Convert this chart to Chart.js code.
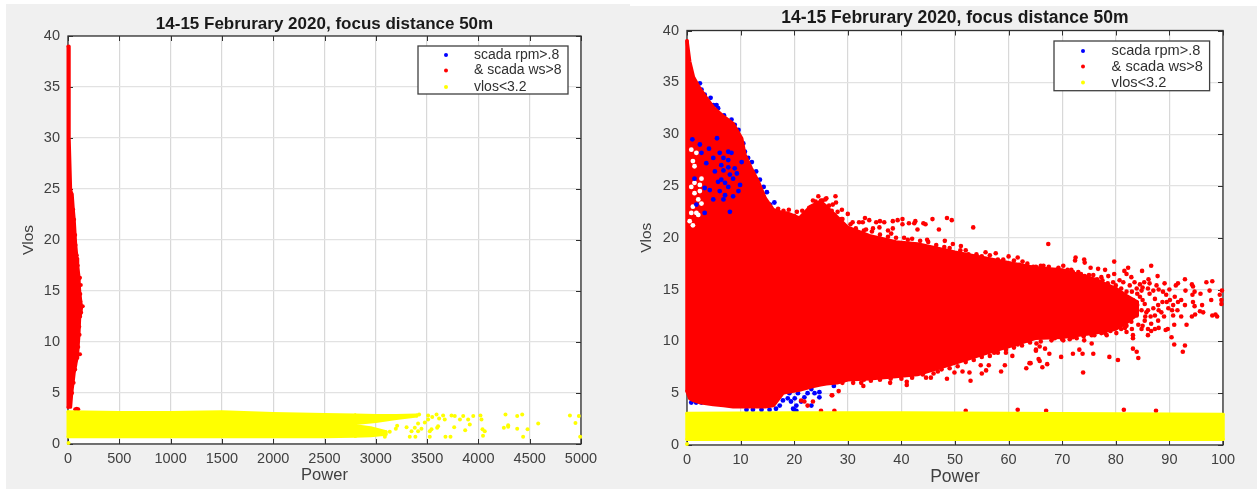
<!DOCTYPE html>
<html>
<head>
<meta charset="utf-8">
<title>14-15 Februrary 2020, focus distance 50m</title>
<script src="https://cdn.jsdelivr.net/npm/chart.js@4/dist/chart.umd.min.js"></script>
<style>
  html, body { margin: 0; padding: 0; background: #fff; }
  canvas { position: absolute; background: #f0f0f0; filter: blur(0.55px); }
  #left { left: 6px; top: 4px; }
  #right { left: 630px; top: 6px; }
</style>
</head>
<body>
<canvas id="left" width="624" height="485"></canvas>
<canvas id="right" width="627" height="483"></canvas>
<script>
// ─── textos y ejes ───────────────────────────────────────────────
var titleText = '14-15 Februrary 2020, focus distance 50m';
var seriesLabels = ['scada rpm>.8', '& scada ws>8', 'vlos<3.2'];
var seriesColors = ['#0000ff', '#ff0000', '#ffff00'];
var yTicks = [0, 5, 10, 15, 20, 25, 30, 35, 40];
var xTicksLeft = [0, 500, 1000, 1500, 2000, 2500, 3000, 3500, 4000, 4500, 5000];
var xTicksRight = [0, 10, 20, 30, 40, 50, 60, 70, 80, 90, 100];

// ─── panel izquierdo: Power 0-5000 ───────────────────────────────
var leftRedX = [0, 10, 12, 26, 29, 36, 42, 52, 61, 75, 78, 88, 95, 107, 114, 125, 133];
var leftRedTop = [39, 39, 30, 25, 24.8, 24.6, 24.4, 23, 22, 19.6, 19.3, 18.2, 17.5, 16.4, 15, 14, 13.4];
var leftRedBottom = [3.6, 3.6, 3.6, 3.6, 3.6, 4.9, 5.4, 6.2, 7, 7.7, 7.9, 8.4, 8.9, 10.7, 12.3, 12.8, 13.4];
var leftRedPoints = [[117, 16.3], [125, 15.6], [144, 13.5], [117, 8.8], [113, 10.7], [74, 19.5], [59, 22], [100, 3.4], [85, 3.45], [70, 3.4], [120, 14.7], [128, 12.9],
  [107, 16.2], [95, 17.5], [85, 18.5], [70, 20.5], [100, 9.5], [85, 8.5], [70, 7.3], [55, 6], [40, 5], [120, 14], [118, 12.5], [110, 11.5], [50, 23], [35, 24.5]];

var leftYellowX = [0, 500, 1000, 1500, 2000, 2500, 2800];
var leftYellowTop = [3.15, 3.1, 3.1, 3.15, 3, 2.9, 2.85];
var leftYellowBottom = [0.72, 0.72, 0.72, 0.72, 0.72, 0.72, 0.75];
var leftLobeHighX = [2800, 3000, 3200, 3400];
var leftLobeHighTop = [2.85, 2.8, 2.8, 2.85];
var leftLobeHighBottom = [2, 2.2, 2.5, 2.75];
var leftLobeLowX = [2800, 2950, 3100];
var leftLobeLowTop = [1.8, 1.6, 1.2];
var leftLobeLowBottom = [0.75, 0.8, 0.95];
var leftYellowPoints = [[3422, 2.9], [3510, 2.8], [3592, 2.9], [3550, 2.65], [3656, 2.8], [3738, 2.8], [3770, 2.75], [3852, 2.75], [3950, 2.75], [4020, 2.8], [4030, 2.4], [3900, 2.4], [3820, 2.4], [3672, 2.4], [3617, 2.5], [3510, 2.4], [3478, 2.1], [3412, 2], [3916, 1.9], [3764, 1.65], [3607, 1.75], [3598, 1.6], [3543, 1.45], [3526, 1.25], [3871, 1.35], [4040, 1.45], [4062, 1.25], [4045, 0.8], [3526, 0.7], [3679, 0.7], [3728, 0.7], [3331, 0.7], [3386, 0.7], [3348, 1.25], [3412, 1.25], [3445, 1.5], [3300, 1.65], [3380, 1.6], [3208, 1.8], [3195, 1.5], [3136, 1.2], [3088, 0.7], [4264, 2.9], [4378, 2.75], [4427, 2.9], [4248, 1.6], [4290, 1.85], [4290, 1.7], [4378, 1.5], [4479, 1.45], [4583, 2], [4436, 0.7], [4892, 2.8], [4979, 2.75], [4946, 2.05], [4992, 0.7], [5, 0.1]];

// ─── panel derecho: Power 0-100 ──────────────────────────────────
var rightRedX = [0, 0.5, 1.2, 2.4, 3.6, 4.9, 6.8, 8.6, 10.2, 10.8, 12, 13.3, 14.6, 16.1, 17.9, 18.6, 21, 23, 24.9, 26, 28, 30, 34, 39, 43, 50, 56, 60, 65, 70, 76, 80, 82, 84];
var rightRedTop = [39, 37, 35.5, 34.4, 33.5, 32.6, 31.7, 31, 29.6, 28, 26.7, 25.4, 23.8, 22.7, 22.4, 22.4, 21.9, 23, 23.5, 23, 22, 21, 20.2, 19.6, 19.4, 18.6, 18, 17.6, 17.1, 16.9, 16, 15.1, 14.4, 13.8];
var rightRedBottom = [5.2, 4.5, 4.3, 4.1, 4, 3.9, 3.8, 3.7, 3.7, 3.7, 3.7, 3.7, 3.7, 3.8, 5, 5.1, 5.3, 5.6, 5.8, 5.9, 6, 6.3, 6.4, 6.6, 6.8, 7.9, 8.9, 9.5, 10.3, 10.4, 10.8, 11.2, 11.8, 12.6];
var rightRedPoints = [
  // cola derecha
  [67.4, 19.4], [72.5, 18.1], [74.1, 17.9], [72.4, 17.8], [74.2, 17.6], [79.7, 17.7], [75.3, 17.1], [76.7, 17], [78, 16.9], [82.3, 17.1], [86.6, 17.3], [84.9, 16.8], [79.7, 16.5], [81.6, 16.8], [82, 16.5], [82.9, 16.2], [87.8, 16.3], [86.1, 16], [85.3, 15.7], [92.9, 16], [91.6, 15.6], [91.2, 15.4], [94.2, 15.5], [94.4, 15.3], [96.9, 15.7], [98, 15.8], [93, 14.9], [94.7, 14.8], [94.3, 14.5], [95.8, 14.6], [97.5, 14.9], [99.8, 14.9], [99.4, 14.5], [99.7, 14], [97.8, 14], [99.7, 13.6], [94.4, 13.8], [96.1, 13.5], [92.9, 13.5], [94.7, 13.4], [95.7, 12.9], [96.3, 12.8], [94.2, 12.4], [94.8, 12.6], [98, 12.5], [98.6, 12.6], [98.9, 12.4], [92.2, 12.4], [90.7, 12.5], [93.2, 11.6], [90.9, 11.6], [89.7, 11.2], [89.3, 11.1], [90.4, 10.4], [90.9, 9.7], [92.9, 9.6], [92.5, 9], [83.2, 9.3], [83.9, 9], [84.2, 8.4], [83.2, 10.3], [80.4, 8.2], [78.8, 8.5], [75.8, 8.8], [73.9, 7], [73.2, 9.2], [73.8, 8.8], [72, 8.8], [69.8, 8.5], [67.6, 8.8], [65.8, 8.1], [67.2, 7.8], [66.3, 7.5], [64.1, 7.9], [66.8, 9.3], [65.8, 9.5], [65.1, 9.1], [65.2, 9.8], [75.5, 9.8], [74.1, 10.1],
  [83.2, 14], [84.5, 14.3], [85.4, 13.6], [86.3, 14.6], [87.3, 14.1], [87.9, 13.5], [88.8, 14.8], [89.4, 14.5], [90.1, 14], [91, 14.3], [91.6, 13.8], [92.2, 14], [90.7, 13.5], [89.8, 13.2], [88.5, 12.8], [87.3, 12.5], [87.9, 12], [86.6, 11.7], [85.4, 12], [84.2, 11.6], [82.9, 11.9], [84.8, 13], [85.7, 12.8], [87, 13.2], [83.9, 12.5], [82.6, 12.8], [86.3, 15.6], [87.6, 15.4], [89.1, 15.6], [83.9, 15.1], [84.8, 14.9], [82.6, 15.4], [81.4, 15.7], [80.7, 15.9], [87.3, 11.2], [86, 10.6], [86.6, 11], [84.8, 11.2], [83.2, 10.6], [81.7, 11.3], [80.1, 10.8], [79.5, 11.2], [78.3, 10.6], [77.3, 10.8], [75.5, 10.6], [73.9, 10.8], [72.7, 10.3], [71.4, 10.2], [70.2, 10.1], [68.6, 10.3],
  [64.6, 17.2], [66.5, 17.3], [69.3, 17.1], [70.2, 17.3], [71.7, 16.9], [73, 16.7], [74.2, 16.3], [75.8, 16.4], [77.3, 16.2], [78.6, 16.3], [79.5, 15.7],
  [84, 13.5], [85, 14], [86, 13], [85.5, 12.4], [86.5, 12.4], [88, 13], [88.7, 13.8], [89, 12.4], [84.5, 15.5], [83.5, 15.7], [85, 15.2], [88, 15], [90, 15], [90.5, 13], [89.5, 13.8], [91.5, 13], [86, 11.2], [83, 11.2], [85, 11.5], [82, 10.9], [88, 11.3], [87, 14.9], [86, 15.1], [84, 14.6],
  // borde superior
  [26, 23.8], [27.7, 24], [27.8, 23.4], [25.3, 23.6], [27.2, 23.2], [28.9, 22.7], [28.1, 22.5], [30, 22.3], [28.8, 21.8], [30.9, 21.5], [32.1, 21.5], [32.8, 21.5], [33.2, 21.9], [34, 21.7], [35.3, 21.5], [36, 21.6], [36.8, 21.5], [38.4, 21.6], [39.3, 21.7], [40.2, 21.8], [40.2, 21.3], [41.4, 21.4], [42.4, 21.4], [42.6, 21.6], [44.1, 21.4], [44.5, 21.3], [45.8, 21.8], [43, 20.8], [47, 20.8], [48.5, 21.9], [49.4, 21.7], [53.4, 21], [38.4, 20.9], [37.5, 20.7], [35.9, 21], [34.7, 20.9], [33.4, 20.8], [38.1, 20.4], [44.8, 19.8], [48.1, 19.7], [49.6, 19.4], [41.2, 19.8], [51.1, 19.2], [52, 18.8], [57.6, 18.5], [55.7, 18.6], [60, 18.2], [61.7, 18.1], [62.6, 17.7], [65.1, 17.2], [20.5, 22.5], [19, 22.7], [21.5, 22.6], [23.5, 23.6], [24.5, 24],
  [29, 21.8], [30.5, 21.3], [31.5, 20.9], [33, 20.7], [34.5, 20.6], [36, 20.3], [37.5, 20.1], [39, 20], [40.5, 20], [42, 19.9], [43.5, 19.7], [45, 19.6], [46.5, 19.3], [48, 19.1], [49, 19], [51, 18.8], [52.5, 18.4], [54, 18.4], [55, 18.2], [56.5, 18.3], [58, 17.9], [59, 17.9], [61, 17.8], [62, 17.4], [63.5, 17.5], [66, 17.3], [67.5, 17.2], [69, 16.9], [71, 16.9], [72, 16.7], [73.5, 16.5], [75, 16.4], [76.5, 16], [77.5, 15.9], [78.5, 15.6], [80, 15.4], [81, 15.1], [82, 14.8], [83, 14.8],
  [20, 22.1], [22, 22], [22.8, 22.9], [23.5, 23], [24, 23.5], [25, 23.6], [25.8, 23.7], [26.5, 23.1], [27, 22.6], [27.5, 22.2], [18, 22.6], [17, 22.8],
  // borde inferior
  [28.3, 5.2], [27, 4.8], [32.5, 6], [32.9, 5.7], [34.3, 6.2], [37.9, 6], [41, 5.8], [41, 6.1], [48.5, 6.4], [52.9, 6.2], [52.7, 7], [49.9, 7], [51.4, 7.1], [55, 6.9], [55.8, 7.2], [56.3, 7.7], [54.8, 7.7], [58.6, 7.1], [59.3, 7.7], [63.3, 7.4], [63.9, 7.9], [65.6, 8.3], [46.8, 7.1], [45.5, 6.5], [44.6, 6.5], [60.7, 8.6], [65.1, 9.2], [57, 9.8], [58.3, 9.5], [63.5, 10.1], [61.7, 9.7], [59.5, 8.9], [57.3, 8.9], [21.9, 4.2], [23.5, 4.2], [21.3, 4.3], [27.1, 4.8], [22.5, 3.8],
  [29, 6], [31, 6], [33, 6.3], [36, 6.3], [38, 6.4], [40, 6.4], [42, 6.5], [44, 6.8], [46, 6.9], [47.5, 7.3], [49, 7.4], [50.5, 7.6], [52, 8], [53.5, 8.2], [55, 8.5], [56.5, 8.6], [58, 8.9], [59.5, 9.2], [61, 9.4], [62.5, 9.6], [64, 9.9], [66, 10], [68, 10.1], [70, 10.2], [72, 10.4], [74, 10.5], [76, 10.6], [78, 10.8], [79, 11], [81, 11.2], [82, 11.5],
  // encima de la franja amarilla
  [25, 3.3], [27.5, 3.3], [52, 3.3], [61.7, 3.4], [67, 3.3], [81.5, 3.4], [87.5, 3.3]
];
var rightBlueEdge = [[1.1, 35.4], [2.4, 34.9], [2.7, 34.3], [3.3, 33.8], [4.4, 33.5], [3.9, 33.1], [4.9, 32.8], [5.5, 32.8], [5.8, 32.5], [6.9, 31.8], [8.3, 31.4], [8.9, 30.9], [9.6, 30.4], [10.5, 29.1], [10.8, 28.3], [11.4, 27.7], [12.1, 27.3], [12.9, 26.4], [13.6, 25.6], [14.3, 24.9], [14.9, 24.4], [15.5, 23.2], [16.3, 23.4],
  [0.8, 4.1], [1.7, 4.1], [2.7, 4.1], [9.5, 3.8], [11.1, 3.4], [12.3, 3.4], [13.9, 3.4], [15.4, 3.4], [16.6, 3.5], [17.3, 3.8], [17.9, 4.3], [18.8, 4.5], [18, 5.2], [19.4, 4.2], [20.1, 4.5], [20.4, 3.8], [19.8, 3.5], [20.7, 5], [21.9, 4.6], [22.5, 5], [23.2, 5.4], [23.8, 5], [24.7, 5.1], [24.7, 4.6], [23.2, 3.8], [21.3, 4.2], [27.4, 5.7], [20, 3.4], [20.4, 3.3], [19.1, 5]];
var rightBlueInner = [[1, 29.5], [5.6, 29.6], [2.4, 29], [4.1, 28.6], [2.7, 28.2], [6.1, 28.2], [7.7, 28.3], [8.3, 28.2], [4.9, 27.7], [6.8, 27.7], [3.6, 27.2], [7.7, 26.8], [6.8, 26.5], [9.3, 26.2], [8.6, 25.7], [6.4, 25.6], [7.1, 25.3], [7.7, 24.9], [6.1, 24.5], [7.1, 24.1], [8.6, 24], [4.25, 24.6], [3.3, 24.8], [4.9, 23.7], [6.8, 23.7], [1.4, 25.7], [1.75, 23.2], [9.6, 24.5], [9.9, 25.1], [8, 26.1], [5.8, 25.4], [5.2, 26.4], [10.2, 27.3], [8, 22.5], [3.3, 22.4], [7.7, 27.5], [6.4, 27], [8.9, 26.7]];
var rightWhiteGaps = [[0.8, 28.5], [1.75, 28.2], [1.1, 27.4], [1.4, 24.3], [2.1, 23.7], [1.1, 23], [1.75, 22.4], [2.4, 24.5], [0.8, 22.4], [0.5, 21.6], [2.7, 25.7], [1.4, 26.9], [2.4, 25.1], [1.4, 25.3], [0.8, 24.9], [2.7, 23.3], [2.1, 22.2], [1.1, 21.2]];
var rightYellowX = [0, 20, 40, 60, 80, 100];
var rightYellowTop = [3.05, 3.1, 3.1, 3.05, 3, 2.95];
var rightYellowBottom = [0.55, 0.55, 0.55, 0.55, 0.55, 0.55];
var rightYellowPoints = [[0, 0.1]];

// ─── helpers ─────────────────────────────────────────────────────
function pares(xs, ys) {
  return xs.map(function (x, i) { return { x: x, y: ys[i] }; });
}
function linea(data, color, w, fill) {
  return {
    data: data, borderColor: color, backgroundColor: color, borderWidth: w,
    fill: fill || false, pointRadius: 0, tension: 0, clip: false,
    borderCapStyle: 'round', borderJoinStyle: 'round'
  };
}
// zona densa: borde superior + inferior rellenos, y los dos cierres laterales
function banda(xs, top, bottom, color, w) {
  var n = xs.length - 1;
  return [
    linea(pares(xs, top), color, w, '+1'),
    linea(pares(xs, bottom), color, w),
    linea(pares([xs[0], xs[0]], [top[0], bottom[0]]), color, w),
    linea(pares([xs[n], xs[n]], [top[n], bottom[n]]), color, w)
  ];
}
function puntos(list, color, r) {
  return {
    data: list.map(function (p) { return { x: p[0], y: p[1] }; }),
    showLine: false, pointRadius: r, pointBorderWidth: 0, pointHoverRadius: r,
    pointBackgroundColor: color, borderColor: color, backgroundColor: color, clip: false
  };
}

// fondo blanco y marco con marcas hacia adentro en los cuatro lados, como MATLAB
var marco = {
  id: 'marco',
  beforeDraw: function (chart) {
    var a = chart.chartArea;
    chart.ctx.save();
    chart.ctx.fillStyle = '#ffffff';
    chart.ctx.fillRect(a.left, a.top, a.right - a.left, a.bottom - a.top);
    chart.ctx.restore();
  },
  beforeDatasetsDraw: function (chart) {
    var c = chart.ctx, a = chart.chartArea, len = 5;
    c.save();
    c.strokeStyle = '#303030';
    c.lineWidth = 1;
    c.beginPath();
    chart.scales.x.ticks.forEach(function (t) {
      var px = Math.round(chart.scales.x.getPixelForValue(t.value)) + 0.5;
      c.moveTo(px, a.bottom); c.lineTo(px, a.bottom - len);
      c.moveTo(px, a.top); c.lineTo(px, a.top + len);
    });
    chart.scales.y.ticks.forEach(function (t) {
      var py = Math.round(chart.scales.y.getPixelForValue(t.value)) + 0.5;
      c.moveTo(a.left, py); c.lineTo(a.left + len, py);
      c.moveTo(a.right, py); c.lineTo(a.right - len, py);
    });
    c.stroke();
    c.lineWidth = 1.3;
    c.strokeRect(a.left, a.top, a.right - a.left, a.bottom - a.top);
    c.restore();
  }
};

// leyenda dentro del área, arriba a la derecha
var leyenda = {
  id: 'leyenda',
  afterDraw: function (chart, args, o) {
    var c = chart.ctx;
    c.save();
    c.fillStyle = '#fff';
    c.strokeStyle = '#404040';
    c.lineWidth = 1.3;
    c.fillRect(o.x, o.y, o.w, o.h);
    c.strokeRect(o.x, o.y, o.w, o.h);
    c.font = o.size + 'px "Liberation Sans"';
    c.textBaseline = 'middle';
    seriesLabels.forEach(function (txt, i) {
      var y = o.y + o.rows[i];
      c.beginPath();
      c.fillStyle = seriesColors[i];
      c.arc(o.x + o.marker, y, 2, 0, Math.PI * 2);
      c.fill();
      c.fillStyle = '#303030';
      c.fillText(txt, o.x + o.text, y);
    });
    c.restore();
  }
};

function grafico(id, datasets, xTicks, o) {
  var fontTick = { family: 'Liberation Sans', size: 14.5 };
  var sinComa = function (v) { return String(v); };
  new Chart(document.getElementById(id), {
    type: 'line',
    data: { datasets: datasets },
    plugins: [marco, leyenda],
    options: {
      responsive: false,
      animation: false,
      events: [],
      layout: { padding: { right: o.padRight } },
      plugins: {
        legend: { display: false },
        tooltip: { enabled: false },
        title: {
          display: true, text: titleText, fullSize: false, color: '#1a1a1a',
          font: { family: 'Liberation Sans', size: o.titleSize, weight: 'bold', lineHeight: 1.2 },
          padding: o.titlePad
        },
        leyenda: o.legend
      },
      scales: {
        x: {
          type: 'linear', min: xTicks[0], max: xTicks[xTicks.length - 1],
          afterFit: function (s) { s.height = o.xHeight; },
          afterBuildTicks: function (s) { s.ticks = xTicks.map(function (v) { return { value: v }; }); },
          grid: { color: '#d8d8d8', lineWidth: 1.2, drawTicks: false },
          border: { display: false },
          ticks: { color: '#404040', font: fontTick, padding: 6, maxRotation: 0, autoSkip: false, callback: sinComa },
          title: {
            display: true, text: 'Power', color: '#404040',
            font: { family: 'Liberation Sans', size: o.powerSize, lineHeight: 1.2 },
            padding: { top: 0, bottom: o.xTitlePad }
          }
        },
        y: {
          type: 'linear', min: yTicks[0], max: yTicks[yTicks.length - 1],
          afterFit: function (s) { s.width = o.yWidth; },
          afterBuildTicks: function (s) { s.ticks = yTicks.map(function (v) { return { value: v }; }); },
          grid: { color: '#e2e2e2', lineWidth: 1.2, drawTicks: false },
          border: { display: false },
          ticks: { color: '#404040', font: fontTick, padding: 8, autoSkip: false, callback: sinComa },
          title: {
            display: true, text: 'Vlos', color: '#404040',
            font: { family: 'Liberation Sans', size: 15.5, lineHeight: 1.2 },
            padding: { top: o.yTitlePad, bottom: 0 }
          }
        }
      }
    }
  });
}

// el primer dataset se pinta encima de todos
grafico('left', [].concat(
  banda(leftYellowX, leftYellowTop, leftYellowBottom, seriesColors[2], 3),
  banda(leftLobeHighX, leftLobeHighTop, leftLobeHighBottom, seriesColors[2], 3),
  banda(leftLobeLowX, leftLobeLowTop, leftLobeLowBottom, seriesColors[2], 3),
  [puntos(leftYellowPoints, seriesColors[2], 2), puntos(leftRedPoints, seriesColors[1], 2)],
  banda(leftRedX, leftRedTop, leftRedBottom, seriesColors[1], 3)
), xTicksLeft, {
  padRight: 49, xHeight: 45, yWidth: 62, titleSize: 17, titlePad: { top: 9.8, bottom: 1.8 },
  powerSize: 16.5, xTitlePad: 4, yTitlePad: 13,
  legend: { x: 412, y: 42, w: 150, h: 48, marker: 28, text: 56, size: 14, rows: [9, 24.5, 41] }
});

grafico('right', [].concat(
  banda(rightYellowX, rightYellowTop, rightYellowBottom, seriesColors[2], 3.5),
  [puntos(rightYellowPoints, seriesColors[2], 2), puntos(rightBlueInner, seriesColors[0], 2.4),
   puntos(rightWhiteGaps, '#ffffff', 2.4), puntos(rightRedPoints, seriesColors[1], 2.3)],
  banda(rightRedX, rightRedTop, rightRedBottom, seriesColors[1], 3.5),
  [puntos(rightBlueEdge, seriesColors[0], 2.4)]
), xTicksRight, {
  padRight: 34, xHeight: 44, yWidth: 57, titleSize: 17.5, titlePad: { top: 1.8, bottom: 1.7 },
  powerSize: 17.5, xTitlePad: 1.5, yTitlePad: 7,
  legend: { x: 424, y: 35, w: 155.6, h: 49.7, marker: 29, text: 57.6, size: 14.6, rows: [10, 25.5, 41.5] }
});
</script>
</body>
</html>
